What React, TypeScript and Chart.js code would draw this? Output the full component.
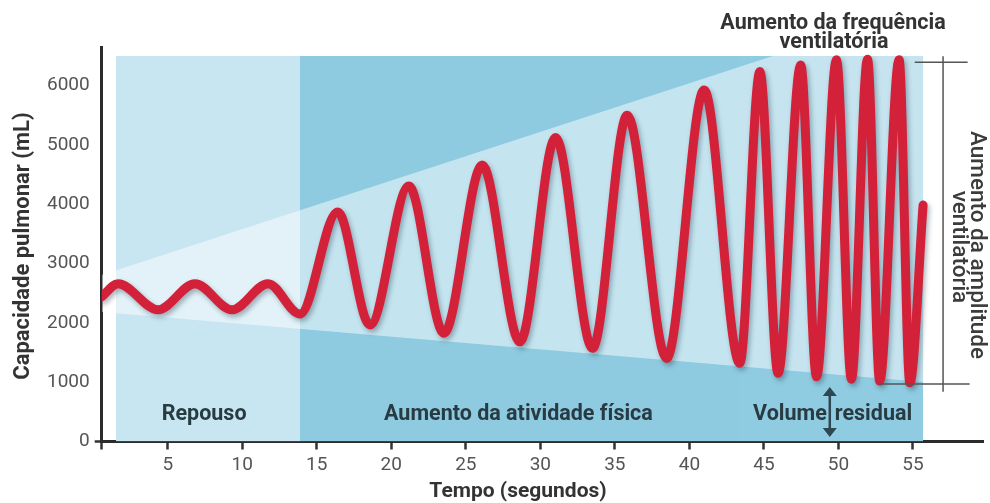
import { useEffect, useRef } from "react";
import { Chart, registerables } from "chart.js";

Chart.register(...registerables);

// ---- axes ----
const X_MIN = 0.57;
const X_MAX = 59.7;
const Y_MIN = 0;
const Y_MAX = 6650;
const X_TICKS = [5, 10, 15, 20, 25, 30, 35, 40, 45, 50, 55];
const Y_TICKS = [0, 1000, 2000, 3000, 4000, 5000, 6000];

// ---- breathing curve (time s, lung volume mL) ----
const breathTime = [
  0.57, 1.67, 4.35, 6.83, 9.31, 11.73, 13.87, 16.4, 18.57, 21.18, 23.53, 26.1,
  28.63, 31.02, 33.5, 35.83, 38.47, 40.99, 43.38, 44.73, 45.95, 47.47, 48.53,
  49.87, 50.87, 51.95, 52.77, 54.07, 54.79, 55.68,
];
const breathVolume = [
  2440, 2660, 2220, 2660, 2220, 2660, 2150, 3870, 1965, 4305, 1825, 4660,
  1680, 5125, 1570, 5500, 1400, 5925, 1320, 6235, 1150, 6345, 1090,
  6435, 1050, 6445, 1020, 6435, 990, 3985,
];

// ---- background phases ----
const phaseNames = ["Repouso", "Aumento da atividade física", "Volume residual"];
const phaseStart = [1.53, 13.85, 43.3];
const phaseEnd = [13.89, 43.34, 55.69];
const phaseTop = [6500, 6500, 6500];
const phaseColors = ["#c8e6f1", "#8ecbe0", "#90cce1"];

// ---- widening cone ----
const coneUpperTime = [0.57, 45.6, 55.69];
const coneUpperVolume = [2806, 6500, 6500];
const coneLowerTime = [0.57, 55.69];
const coneLowerVolume = [2183, 1003];

// ---- texts ----
const X_TITLE = "Tempo (segundos)";
const Y_TITLE = "Capacidade pulmonar (mL)";
const FREQ_NOTE = ["Aumento da frequência", "ventilatória"];
const AMP_NOTE = ["Aumento da amplitude", "ventilatória"];

const FONT = "Roboto";

const pts = (xs: number[], ys: number[]) => xs.map((v, i) => ({ x: v, y: ys[i] }));

const shadowPlugin = {
  id: "curveShadow",
  beforeDatasetDraw(chart: any, args: any) {
    if (args.index !== 0) return;
    const ctx = chart.ctx;
    ctx.save();
    ctx.shadowColor = "rgba(20,40,60,0.35)";
    ctx.shadowBlur = 5;
    ctx.shadowOffsetX = 2;
    ctx.shadowOffsetY = 3;
  },
  afterDatasetDraw(chart: any, args: any) {
    if (args.index !== 0) return;
    chart.ctx.restore();
  },
};

const annotationPlugin = {
  id: "annotations",
  afterDraw(chart: any) {
    const { ctx } = chart;
    const xs = chart.scales.x;
    const ys = chart.scales.y;
    const px = (v: number) => xs.getPixelForValue(v);
    const py = (v: number) => ys.getPixelForValue(v);
    ctx.save();

    // phase labels
    ctx.fillStyle = "#283a42";
    ctx.font = `bold 21.5px ${FONT}`;
    ctx.textBaseline = "alphabetic";
    ctx.textAlign = "center";
    const labelY = py(354);
    ctx.fillText(phaseNames[0], px(7.44), labelY);
    ctx.fillText(phaseNames[1], px(28.53), labelY);
    const arrowX = px(49.42);
    const [w1, w2] = phaseNames[2].split(" ");
    ctx.textAlign = "right";
    ctx.fillText(w1, arrowX - 3, labelY);
    ctx.textAlign = "left";
    ctx.fillText(w2, arrowX + 5, labelY);

    // residual volume arrow
    const aTop = py(918);
    const aBot = py(76);
    ctx.strokeStyle = "#2e4852";
    ctx.fillStyle = "#2e4852";
    ctx.lineWidth = 2.5;
    ctx.beginPath();
    ctx.moveTo(arrowX, aTop + 6);
    ctx.lineTo(arrowX, aBot - 6);
    ctx.stroke();
    ctx.beginPath();
    ctx.moveTo(arrowX, aTop);
    ctx.lineTo(arrowX - 7, aTop + 9);
    ctx.lineTo(arrowX + 7, aTop + 9);
    ctx.closePath();
    ctx.fill();
    ctx.beginPath();
    ctx.moveTo(arrowX, aBot);
    ctx.lineTo(arrowX - 7, aBot - 9);
    ctx.lineTo(arrowX + 7, aBot - 9);
    ctx.closePath();
    ctx.fill();

    // amplitude bracket
    ctx.strokeStyle = "#555";
    ctx.lineWidth = 1.5;
    ctx.beginPath();
    ctx.moveTo(px(55.12), py(6392));
    ctx.lineTo(px(58.67), py(6392));
    ctx.moveTo(px(57.02), py(6496));
    ctx.lineTo(px(57.02), py(840));
    ctx.moveTo(px(52.77), py(969));
    ctx.lineTo(px(58.8), py(969));
    ctx.stroke();

    // frequency note (top)
    ctx.fillStyle = "#333";
    ctx.font = `bold 21.5px ${FONT}`;
    ctx.textAlign = "center";
    ctx.fillText(FREQ_NOTE[0], 833, 28.5);
    ctx.fillText(FREQ_NOTE[1], 834, 47.5);

    // amplitude note (rotated, right)
    ctx.fillStyle = "#3c3c3c";
    ctx.font = `500 22.5px ${FONT}`;
    ctx.save();
    ctx.translate(971, 245);
    ctx.rotate(Math.PI / 2);
    ctx.fillText(AMP_NOTE[0], 0, 0);
    ctx.restore();
    ctx.save();
    ctx.translate(953, 247);
    ctx.rotate(Math.PI / 2);
    ctx.fillText(AMP_NOTE[1], 0, 0);
    ctx.restore();

    // axis titles
    ctx.fillStyle = "#333";
    ctx.font = `bold 21px ${FONT}`;
    ctx.fillText(X_TITLE, 518, 496.7);
    ctx.font = `bold 22px ${FONT}`;
    ctx.save();
    ctx.translate(28.5, 246);
    ctx.rotate(-Math.PI / 2);
    ctx.fillText(Y_TITLE, 0, 0);
    ctx.restore();

    ctx.restore();
  },
};

export default function App() {
  const ref = useRef<HTMLCanvasElement | null>(null);

  useEffect(() => {
    if (!ref.current) return;
    const phaseSets = phaseNames.map((name, i) => ({
      label: name,
      data: pts([phaseStart[i], phaseEnd[i]], [phaseTop[i], phaseTop[i]]),
      borderColor: "transparent",
      borderWidth: 0,
      backgroundColor: phaseColors[i],
      fill: "origin",
      pointRadius: 0,
      tension: 0,
      order: 3,
    }));
    const chart = new Chart(ref.current, {
      type: "line",
      data: {
        datasets: [
          {
            label: "Capacidade pulmonar",
            data: pts(breathTime, breathVolume),
            borderColor: "#d3213a",
            borderWidth: 9,
            borderCapStyle: "round",
            borderJoinStyle: "round",
            cubicInterpolationMode: "monotone",
            pointRadius: 0,
            fill: false,
            order: 0,
            clip: 0,
          } as any,
          {
            label: "cone-lower",
            data: pts(coneLowerTime, coneLowerVolume),
            borderColor: "transparent",
            borderWidth: 0,
            backgroundColor: "rgba(255,255,255,0.48)",
            fill: "+1",
            pointRadius: 0,
            tension: 0,
            order: 1,
          },
          {
            label: "cone-upper",
            data: pts(coneUpperTime, coneUpperVolume),
            borderColor: "transparent",
            borderWidth: 0,
            fill: false,
            pointRadius: 0,
            tension: 0,
            order: 1,
          },
          ...phaseSets,
        ] as any,
      },
      options: {
        animation: false,
        responsive: true,
        maintainAspectRatio: false,
        events: [],
        layout: { padding: { top: 47, right: 7, left: 0, bottom: 0 } },
        plugins: { legend: { display: false }, tooltip: { enabled: false } },
        scales: {
          x: {
            type: "linear",
            min: X_MIN,
            max: X_MAX,
            afterBuildTicks: (s: any) => {
              s.ticks = [{ value: X_MIN }, ...X_TICKS.map((v) => ({ value: v }))];
            },
            afterFit: (s: any) => {
              s.height = 61.5;
            },
            ticks: {
              callback: (v: any) => (v === X_MIN ? "" : String(v)),
              font: { family: FONT, size: 19 },
              color: "#555",
              padding: 4,
              maxRotation: 0,
              autoSkip: false,
            },
            grid: {
              drawOnChartArea: false,
              tickLength: 8,
              tickWidth: 2.5,
              tickColor: "#333",
            },
            border: { color: "#2b2b2b", width: 3 },
          },
          y: {
            type: "linear",
            min: Y_MIN,
            max: Y_MAX,
            afterBuildTicks: (s: any) => {
              s.ticks = Y_TICKS.map((v) => ({ value: v }));
            },
            afterFit: (s: any) => {
              s.width = 101.7;
            },
            ticks: {
              callback: (v: any) => String(v),
              font: { family: FONT, size: 19 },
              color: "#555",
              padding: 5,
              autoSkip: false,
            },
            grid: {
              drawOnChartArea: false,
              tickLength: 7,
              tickWidth: 2.5,
              tickColor: (c: any) => (c.tick && c.tick.value === 0 ? "#333" : "transparent"),
            },
            border: { color: "#2b2b2b", width: 3 },
          },
        },
      } as any,
      plugins: [shadowPlugin, annotationPlugin],
    });
    return () => chart.destroy();
  }, []);

  return (
    <div style={{ position: "fixed", left: 0, top: 0, width: 990, height: 503 }}>
      <canvas ref={ref} />
    </div>
  );
}
